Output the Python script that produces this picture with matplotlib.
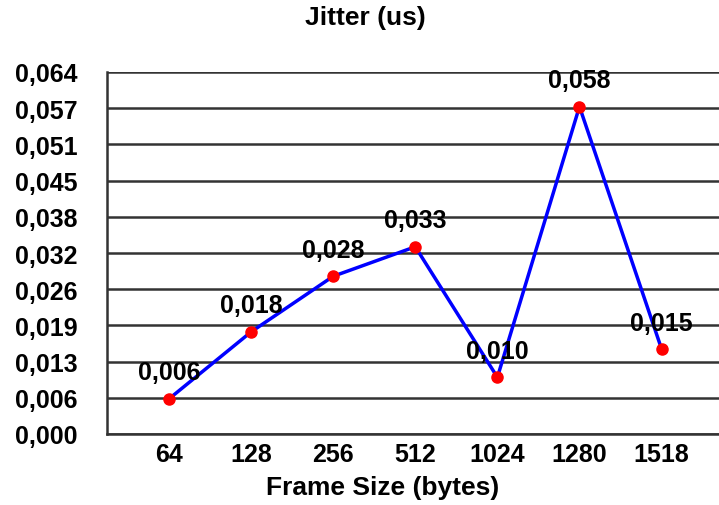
import numpy as np
import matplotlib.pyplot as plt

plt.rcParams['font.family'] = ['Liberation Sans', 'DejaVu Sans']

frame_sizes = ['64', '128', '256', '512', '1024', '1280', '1518']
jitter = [0.0062, 0.0180, 0.0278, 0.0330, 0.0100, 0.0577, 0.0150]
point_labels = ['0,006', '0,018', '0,028', '0,033', '0,010', '0,058', '0,015']

y_max = 0.0638
y_ticks = np.linspace(0, y_max, 11)

fig = plt.figure(figsize=(7.19, 5.06), dpi=100)
ax = fig.add_axes([107/719, 1 - 435/506, 1 - 107/719, 362/506])

x = np.arange(len(frame_sizes))
ax.plot(x, jitter, color='#0000ff', lw=2.5, zorder=3)
ax.plot(x, jitter, 'o', color='#ff0000', ms=8, zorder=4)

for xi, yi, lab in zip(x, jitter, point_labels):
    ax.annotate(lab, (xi, yi), xytext=(0, 19), textcoords='offset points',
                ha='center', va='center', fontsize=18, fontweight='bold', zorder=5)

ax.set_xlim(-0.756, 6.7)
ax.set_ylim(0, y_max)
ax.set_yticks(y_ticks)
ax.set_yticklabels([('%.3f' % v).replace('.', ',') for v in y_ticks])
ax.set_xticks(x)
ax.set_xticklabels(frame_sizes)
ax.tick_params(axis='y', length=0, labelsize=18, pad=21)
ax.tick_params(axis='x', length=0, labelsize=18, pad=6)
for t in ax.get_xticklabels() + ax.get_yticklabels():
    t.set_fontweight('bold')

ax.grid(axis='y', color='#333333', lw=1.8)
ax.set_axisbelow(True)
for s in ['top', 'right']:
    ax.spines[s].set_visible(False)
ax.spines['left'].set_linewidth(1.8)
ax.spines['bottom'].set_linewidth(1.8)
ax.spines['left'].set_color('#333333')
ax.spines['bottom'].set_color('#333333')

ax.set_xlabel('Frame Size (bytes)', fontsize=19, fontweight='bold')
ax.xaxis.set_label_coords((383 - 107) / 612, -(488 - 435) / 362)
ax.xaxis.label.set_va('center')
fig.text(365/719, 1 - 18/506, 'Jitter (us)', ha='center', va='center',
         fontsize=19, fontweight='bold')

fig.savefig('out.png', dpi=100)
